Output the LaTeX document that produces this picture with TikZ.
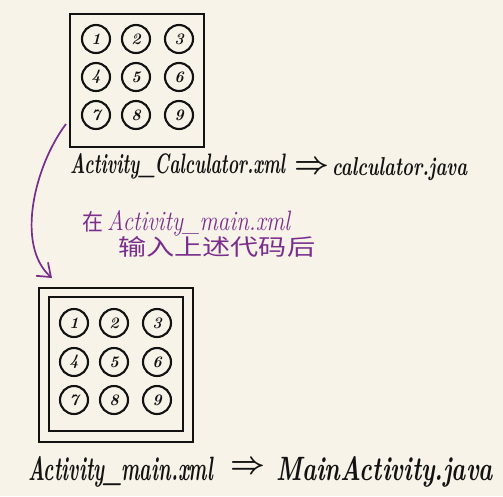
\documentclass[tikz,border=0pt]{standalone}
\usepackage{fontspec}
\newfontfamily\cjk{Noto Sans CJK SC}
\usetikzlibrary{arrows.meta}
\definecolor{paper}{HTML}{F7F3E8}
\definecolor{ink}{HTML}{121212}
\definecolor{violet}{HTML}{7A2E8C}
\newcommand{\fitw}[3]{\resizebox{#1pt}{#2pt}{#3}}
\begin{document}
\begin{tikzpicture}[x=1pt,y=-1pt,
  box/.style={draw=ink,line width=2.6pt},
  key/.style={circle,draw=ink,line width=2.1pt,minimum size=28pt,inner sep=0pt,
    font=\bfseries\itshape\fontsize{16}{16}\selectfont,text=ink},
  caption/.style={anchor=base west,inner sep=0pt,text=ink,
    font=\bfseries\itshape\fontsize{20}{20}\selectfont},
  implies/.style={anchor=center,inner sep=0pt,text=ink},
  note/.style={anchor=base west,inner sep=0pt,text=violet,
    font=\itshape\fontsize{18}{18}\selectfont}]
\fill[paper] (0,0) rectangle (503,496);
\useasboundingbox (0,0) rectangle (503,496);
% top keypad
\draw[box] (70,14) rectangle (204,147);
\foreach \n/\x/\y in {1/96/39,2/136/39,3/179/39,4/96/77,5/136/77,6/179/77,7/96/115,8/136/115,9/179/115}
  \node[key] (t\n) at (\x,\y) {\n};
\node[caption] (tl) at (70,173) {\fitw{215}{20}{Activity\_Calculator.xml}};
\node[implies] (ta) at (312,168) {\resizebox{35pt}{!}{\boldmath$\Rightarrow$}};
\node[caption] (tr) at (332,175) {\fitw{135}{18}{calculator.java}};
% note
\node[note] (n0) at (82,230) {\cjk\fitw{21}{19}{在}};
\node[note] (n1) at (107,230) {\fitw{183}{20}{Activity\_main.xml}};
\node[note] (n2) at (118,255) {\cjk\fitw{197}{19}{输入上述代码后}};
% bottom keypad
\draw[box] (39,288) rectangle (193,442);
\draw[box] (49,297) rectangle (183,431);
\foreach \n/\x/\y in {1/74/323,2/114/323,3/157/323,4/74/362,5/114/362,6/157/362,7/74/400,8/114/400,9/157/400}
  \node[key] (b\n) at (\x,\y) {\n};
\node[caption] (bl) at (28,480) {\fitw{185}{24}{Activity\_main.xml}};
\node[implies] (ba) at (248,468) {\resizebox{35pt}{!}{\boldmath$\Rightarrow$}};
\node[caption] (br) at (276,480) {\fitw{217}{24}{MainActivity.java}};
% purple arrow
\coordinate (s) at (66,124);
\coordinate (e) at (52,278);
\draw[violet,line width=1.7pt,-{Straight Barb[length=12pt,width=18pt]}] (s) .. controls (35,165) and (15,245) .. (e);
\end{tikzpicture}
\end{document}
